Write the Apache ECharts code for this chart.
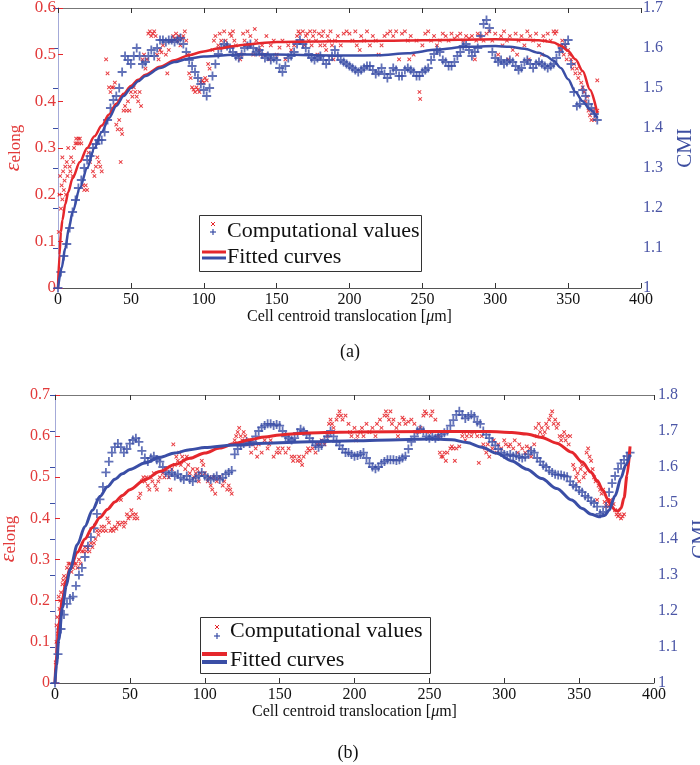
<!DOCTYPE html>
<html><head><meta charset="utf-8">
<script src="https://cdn.jsdelivr.net/npm/echarts@6/dist/echarts.min.js"></script>
<style>html,body{margin:0;padding:0;background:#fff}#c{width:700px;height:765px}</style>
</head><body><div id="c"></div>
<script>
// ---------------- DATA ----------------
const xRange = [0, 400], xStep = 50;
const leftRangeA = [0, 0.6], rightRangeA = [1, 1.7];
const leftRangeB = [0, 0.7], rightRangeB = [1, 1.8];
const yStep = 0.1;
const blueStep = 2; // sampling step (um) of the CMI computational values

// (a) CMI computational values, x = 0,2,4,...,370
const blueA = [1.00,1.04,1.08,1.11,1.15,1.19,1.22,1.25,1.27,1.30,1.32,1.33,1.35,1.36,1.37,1.37,1.39,1.42,1.45,1.47,
1.48,1.50,1.54,1.58,1.57,1.56,1.58,1.60,1.58,1.56,1.565,1.58,1.595,1.58,1.60,1.62,1.62,1.615,1.62,1.62,
1.615,1.62,1.625,1.61,1.59,1.57,1.555,1.54,1.525,1.51,1.495,1.48,1.50,1.53,1.56,1.585,1.60,1.61,1.605,1.60,
1.59,1.58,1.575,1.585,1.60,1.605,1.61,1.60,1.59,1.595,1.585,1.575,1.58,1.57,1.575,1.57,1.55,1.54,1.555,1.575,
1.58,1.59,1.61,1.62,1.61,1.60,1.585,1.575,1.57,1.575,1.58,1.57,1.56,1.57,1.58,1.595,1.58,1.57,1.565,1.56,
1.555,1.55,1.545,1.54,1.545,1.55,1.555,1.555,1.545,1.535,1.54,1.55,1.535,1.525,1.535,1.55,1.545,1.53,1.53,1.545,
1.55,1.545,1.54,1.53,1.53,1.54,1.545,1.55,1.57,1.585,1.595,1.59,1.57,1.565,1.555,1.555,1.565,1.58,1.59,1.605,
1.61,1.595,1.58,1.59,1.60,1.63,1.66,1.67,1.65,1.59,1.575,1.565,1.57,1.56,1.565,1.57,1.565,1.555,1.545,1.55,
1.565,1.57,1.56,1.55,1.56,1.565,1.56,1.555,1.55,1.555,1.56,1.575,1.59,1.60,1.61,1.62,1.56,1.49,1.455,1.46,
1.495,1.48,1.46,1.45,1.435,1.42];

// (a) elongation computational values [x, eps]
const redA = [[0.5,0.12],[1,0.2],[1.5,0.24],[2,0.17],[2.5,0.22],[3,0.28],[3,0.19],[3.5,0.25],[4,0.21],[4.5,0.23],[5,0.26],[5.5,0.2],[6,0.27],[6.5,0.24],[7,0.3],[8,0.26],[8.5,0.25],[9,0.28],[10,0.24],[10.5,0.27],[11,0.3],[12,0.31],[12.5,0.32],[13,0.31],[14,0.32],[14.5,0.31],[15,0.32],[16,0.31],[17,0.22],[18,0.21],[19,0.22],[20,0.21],[21,0.29],[22,0.27],[24,0.25],[25,0.24],[26,0.26],[27,0.28],[28,0.27],[29,0.26],[30,0.25],[33,0.49],[34,0.46],[35,0.43],[36,0.42],[37,0.43],[38,0.43],[39,0.44],[40,0.35],[41,0.34],[42,0.36],[43,0.27],[43.5,0.34],[44,0.33],[45,0.38],[46,0.39],[47,0.38],[48,0.4],[49,0.38],[50,0.42],[51,0.41],[52,0.43],[53,0.42],[54,0.41],[55,0.4],[56,0.42],[57,0.39],[58,0.49],[59,0.5],[60,0.47],[61,0.49],[62,0.545],[63,0.55],[64,0.54],[65,0.545],[66,0.55],[67,0.54],[68,0.5],[69,0.49],[70,0.51],[71,0.505],[72,0.52],[74,0.5],[75,0.46],[76,0.51],[78,0.53],[79,0.54],[80,0.535],[81,0.545],[82,0.53],[83,0.54],[84,0.52],[85,0.535],[86,0.54],[87,0.55],[88,0.53],[89,0.5],[90,0.46],[91,0.45],[92,0.43],[93,0.425],[94,0.42],[95,0.43],[96,0.425],[97,0.42],[98,0.44],[99,0.445],[100,0.44],[101,0.45],[102,0.445],[103,0.48],[104,0.47],[106,0.51],[107,0.53],[108,0.54],[110,0.52],[111,0.545],[112,0.53],[114,0.55],[115,0.53],[116,0.52],[118,0.545],[119,0.54],[120,0.55],[121,0.53],[122,0.52],[124,0.5],[125,0.49],[126,0.5],[127,0.545],[128,0.53],[130,0.55],[131,0.52],[132,0.54],[134,0.5],[135,0.555],[136,0.53],[138,0.51],[139,0.5],[140,0.52],[142,0.5],[143,0.54],[145,0.49],[146,0.52],[148,0.53],[150,0.5],[152,0.515],[154,0.53],[156,0.49],[158,0.52],[160,0.51],[162,0.52],[164,0.54],[165,0.55],[166,0.545],[167,0.53],[168,0.55],[169,0.52],[170,0.54],[171,0.545],[172,0.53],[173,0.55],[174,0.52],[175,0.54],[176,0.55],[177,0.53],[178,0.5],[179,0.545],[180,0.52],[181,0.54],[182,0.55],[183,0.52],[184,0.51],[185,0.54],[186,0.53],[187,0.55],[188,0.52],[189,0.49],[190,0.53],[192,0.54],[194,0.52],[196,0.545],[198,0.55],[200,0.545],[202,0.53],[204,0.55],[205,0.52],[207,0.51],[208,0.54],[210,0.53],[212,0.55],[214,0.52],[216,0.54],[218,0.53],[220,0.5],[222,0.52],[224,0.54],[226,0.545],[228,0.55],[230,0.54],[232,0.55],[234,0.49],[236,0.545],[238,0.55],[240,0.53],[241,0.49],[242,0.54],[244,0.5],[246,0.53],[248,0.42],[248.5,0.405],[250,0.52],[252,0.545],[254,0.55],[256,0.53],[258,0.54],[260,0.52],[262,0.53],[264,0.545],[266,0.54],[268,0.53],[270,0.545],[272,0.535],[274,0.54],[276,0.545],[278,0.53],[280,0.54],[282,0.535],[284,0.54],[286,0.49],[287,0.53],[288,0.545],[290,0.54],[292,0.53],[294,0.545],[296,0.55],[298,0.53],[300,0.545],[302,0.5],[304,0.54],[305,0.52],[306,0.55],[308,0.53],[309,0.49],[310,0.54],[312,0.51],[314,0.545],[315,0.5],[316,0.53],[318,0.54],[320,0.52],[322,0.55],[323,0.49],[324,0.54],[326,0.53],[328,0.545],[330,0.52],[332,0.5],[333,0.54],[334,0.53],[336,0.545],[338,0.53],[340,0.55],[341,0.545],[342,0.55],[344,0.52],[345,0.51],[346,0.53],[347,0.5],[348,0.52],[349,0.49],[350,0.51],[351,0.5],[352,0.49],[353,0.47],[354,0.48],[355,0.46],[356,0.47],[357,0.45],[358,0.46],[359,0.44],[360,0.43],[361,0.42],[362,0.4],[363,0.41],[364,0.38],[365,0.37],[366,0.36],[367,0.38],[368,0.36],[369,0.37],[370,0.445],[370,0.38]];

// (a) fitted curves
const redFitA = [[0,0],[1,0.07],[2,0.12],[3,0.145],[5,0.18],[7,0.205],[10,0.235],[15,0.27],[20,0.30],[25,0.325],[30,0.348],[35,0.372],[40,0.395],[45,0.416],[50,0.433],[55,0.446],[60,0.457],[70,0.474],[80,0.488],[90,0.499],[100,0.507],[110,0.513],[120,0.518],[130,0.522],[140,0.525],[150,0.527],[175,0.528],[200,0.529],[225,0.530],[250,0.531],[275,0.532],[300,0.533],[320,0.532],[330,0.531],[335,0.529],[340,0.526],[345,0.519],[350,0.508],[355,0.49],[360,0.465],[365,0.425],[370,0.375]];
const blueFitA = [[0,1.0],[2.5,1.05],[5,1.10],[7.5,1.15],[10,1.19],[15,1.25],[20,1.30],[25,1.35],[30,1.39],[35,1.425],[40,1.455],[45,1.48],[50,1.50],[55,1.517],[60,1.53],[70,1.55],[80,1.565],[90,1.574],[100,1.579],[125,1.584],[150,1.584],[175,1.582],[200,1.581],[220,1.582],[240,1.587],[260,1.596],[280,1.603],[300,1.605],[310,1.603],[320,1.598],[330,1.588],[335,1.58],[340,1.568],[345,1.55],[350,1.522],[355,1.49],[360,1.467],[365,1.446],[370,1.425]];

// (b) CMI computational values, x = 0,2,4,...,384
const blueB = [1.00,1.08,1.15,1.19,1.22,1.235,1.24,1.27,1.30,1.32,1.35,1.38,1.405,1.43,1.47,1.51,1.545,1.585,1.615,1.64,
1.655,1.665,1.655,1.64,1.65,1.665,1.675,1.68,1.67,1.645,1.625,1.615,1.625,1.63,1.62,1.615,1.60,1.585,1.58,1.585,
1.575,1.58,1.57,1.565,1.575,1.565,1.56,1.57,1.575,1.585,1.575,1.57,1.565,1.57,1.575,1.565,1.57,1.58,1.585,1.59,
1.635,1.65,1.66,1.665,1.67,1.665,1.67,1.685,1.70,1.71,1.715,1.72,1.72,1.715,1.718,1.715,1.70,1.685,1.68,1.675,
1.68,1.695,1.705,1.70,1.69,1.68,1.67,1.66,1.655,1.66,1.675,1.685,1.70,1.685,1.67,1.66,1.65,1.64,1.64,1.635,
1.63,1.632,1.635,1.64,1.625,1.61,1.60,1.595,1.60,1.61,1.615,1.62,1.62,1.62,1.618,1.62,1.625,1.63,1.65,1.67,
1.685,1.70,1.705,1.70,1.685,1.68,1.685,1.68,1.685,1.69,1.695,1.70,1.715,1.73,1.745,1.755,1.745,1.735,1.74,1.745,
1.74,1.725,1.72,1.70,1.69,1.68,1.67,1.66,1.65,1.64,1.635,1.632,1.635,1.63,1.632,1.628,1.625,1.628,1.635,1.645,
1.64,1.625,1.615,1.605,1.60,1.59,1.585,1.58,1.578,1.578,1.575,1.573,1.56,1.55,1.545,1.535,1.53,1.52,1.515,1.505,
1.50,1.49,1.47,1.475,1.49,1.53,1.555,1.575,1.595,1.61,1.62,1.63,1.64];

// (b) elongation computational values [x, eps]
const redB = [[0.5,0.05],[1,0.1],[1,0.14],[1.5,0.16],[2,0.12],[2.5,0.21],[3,0.18],[3.5,0.2],[4,0.22],[5,0.24],[5.5,0.25],[6,0.26],[7,0.24],[8,0.28],[9,0.29],[10,0.29],[11,0.27],[12,0.28],[13,0.29],[14,0.29],[15,0.28],[16,0.3],[17,0.29],[18,0.32],[19,0.32],[20,0.33],[21,0.32],[22,0.33],[23,0.32],[24,0.34],[25,0.33],[26,0.34],[27,0.35],[28,0.37],[29,0.36],[30,0.37],[31,0.38],[32,0.37],[33,0.38],[34,0.37],[35,0.40],[36,0.39],[37,0.37],[38,0.375],[39,0.37],[40,0.38],[41,0.375],[42,0.39],[43,0.385],[44,0.445],[45,0.39],[46,0.38],[47,0.39],[48,0.41],[49,0.40],[50,0.405],[51,0.42],[52,0.41],[53,0.40],[54,0.41],[55,0.40],[56,0.45],[57,0.46],[58,0.49],[59,0.5],[60,0.49],[61,0.5],[62,0.48],[63,0.47],[64,0.5],[65,0.49],[66,0.51],[67,0.48],[68,0.47],[69,0.49],[70,0.5],[72,0.51],[73,0.5],[74,0.52],[76,0.5],[77,0.47],[78,0.52],[79,0.58],[80,0.53],[81,0.55],[82,0.54],[83,0.56],[84,0.53],[85,0.55],[86,0.54],[87,0.52],[88,0.55],[89,0.53],[90,0.51],[92,0.52],[93,0.5],[94,0.51],[95,0.52],[96,0.49],[97,0.51],[98,0.54],[99,0.53],[100,0.51],[102,0.49],[103,0.5],[104,0.48],[105,0.47],[106,0.5],[107,0.46],[108,0.49],[110,0.5],[112,0.48],[113,0.49],[115,0.47],[116,0.48],[117,0.47],[118,0.46],[120,0.59],[121,0.6],[122,0.61],[123,0.62],[124,0.6],[125,0.59],[126,0.61],[127,0.6],[128,0.58],[130,0.59],[131,0.56],[132,0.58],[134,0.57],[135,0.55],[136,0.58],[138,0.56],[140,0.59],[142,0.57],[143,0.58],[144,0.59],[146,0.55],[148,0.56],[149,0.57],[150,0.56],[152,0.57],[154,0.56],[156,0.57],[158,0.55],[159,0.54],[160,0.55],[162,0.54],[163,0.55],[164,0.54],[165,0.53],[166,0.55],[168,0.56],[169,0.57],[170,0.565],[172,0.57],[174,0.56],[175,0.58],[177,0.58],[178,0.59],[180,0.58],[182,0.6],[183,0.63],[184,0.64],[185,0.63],[186,0.62],[188,0.64],[189,0.65],[190,0.66],[191,0.65],[192,0.64],[194,0.65],[196,0.63],[197,0.61],[198,0.6],[200,0.62],[201,0.59],[202,0.6],[204,0.61],[205,0.62],[206,0.6],[208,0.63],[210,0.61],[212,0.62],[214,0.6],[215,0.63],[217,0.64],[218,0.62],[220,0.65],[221,0.66],[222,0.65],[223,0.64],[224,0.66],[225,0.63],[226,0.64],[228,0.62],[229,0.6],[230,0.63],[232,0.645],[233,0.64],[234,0.63],[236,0.635],[238,0.64],[240,0.63],[242,0.61],[244,0.62],[246,0.65],[247,0.66],[248,0.655],[250,0.61],[251,0.65],[252,0.66],[254,0.64],[256,0.6],[257,0.56],[258,0.55],[259,0.55],[260,0.56],[261,0.54],[262,0.56],[264,0.57],[265,0.575],[266,0.57],[267,0.54],[268,0.57],[270,0.575],[272,0.6],[273,0.61],[274,0.59],[275,0.6],[277,0.61],[278,0.6],[280,0.61],[282,0.6],[283,0.535],[285,0.6],[286,0.58],[287,0.57],[288,0.56],[289,0.58],[290,0.55],[292,0.57],[293,0.59],[295,0.56],[296,0.58],[298,0.57],[300,0.59],[301,0.58],[303,0.575],[304,0.58],[306,0.57],[307,0.59],[309,0.56],[310,0.58],[312,0.57],[314,0.56],[315,0.575],[317,0.57],[318,0.55],[320,0.58],[321,0.62],[322,0.6],[323,0.63],[324,0.61],[325,0.62],[326,0.6],[327,0.61],[328,0.63],[329,0.62],[330,0.64],[331,0.65],[332,0.66],[333,0.63],[334,0.64],[335,0.62],[336,0.63],[337,0.6],[338,0.59],[339,0.6],[340,0.61],[341,0.59],[342,0.6],[343,0.58],[344,0.6],[346,0.53],[347,0.52],[348,0.5],[349,0.51],[350,0.49],[351,0.52],[352,0.53],[353,0.5],[354,0.51],[355,0.56],[356,0.57],[357,0.55],[358,0.54],[359,0.52],[360,0.5],[361,0.49],[362,0.445],[363,0.48],[364,0.47],[365,0.46],[366,0.47],[367,0.44],[368,0.43],[369,0.44],[370,0.43],[371,0.445],[372,0.43],[373,0.435],[374,0.42],[375,0.41],[376,0.405],[377,0.41],[378,0.4],[379,0.405],[380,0.41]];

// (b) fitted curves
const redFitB = [[0,0],[1,0.07],[2.5,0.14],[5,0.205],[7.5,0.25],[10,0.278],[15,0.318],[20,0.35],[25,0.378],[30,0.402],[35,0.422],[40,0.44],[45,0.456],[50,0.47],[60,0.494],[70,0.514],[80,0.531],[90,0.546],[100,0.559],[110,0.571],[120,0.582],[130,0.591],[140,0.598],[150,0.603],[160,0.606],[180,0.609],[200,0.61],[250,0.611],[290,0.611],[305,0.609],[315,0.605],[325,0.597],[335,0.583],[345,0.561],[352,0.537],[358,0.512],[362,0.492],[366,0.468],[369,0.447],[372,0.428],[374,0.42],[376,0.418],[378,0.425],[380,0.45],[382,0.505],[384,0.575]];
const blueFitB = [[0,1.0],[1,1.05],[2.5,1.12],[5,1.21],[7.5,1.27],[10,1.315],[15,1.385],[20,1.435],[25,1.48],[30,1.518],[35,1.545],[40,1.566],[45,1.581],[50,1.593],[60,1.611],[70,1.627],[80,1.639],[90,1.648],[100,1.654],[120,1.661],[140,1.666],[170,1.67],[200,1.673],[230,1.676],[250,1.678],[265,1.676],[275,1.668],[285,1.655],[295,1.638],[305,1.617],[315,1.594],[325,1.568],[335,1.54],[345,1.508],[352,1.485],[358,1.469],[363,1.462],[367,1.465],[370,1.48],[374,1.52],[378,1.57],[381,1.605],[384,1.635]];

const seriesNames = ['Computational values', 'Fitted curves'];
const xName = 'Cell centroid translocation [';
const captions = ['(a)', '(b)'];

// ---------------- STYLE ----------------
const FF = '"Liberation Serif", "Times New Roman", serif';
const RED = '#e5272c', BLUE = '#3a4ea6';
const RED_LBL = '#e23a3a', BLUE_LBL = '#4b56a6';
const PLUS = 'path://M4,0H6V4H10V6H6V10H4V6H0V4H4Z';

const grids = [
  {left: 58, top: 8, width: 583, height: 280, containLabel: false, outerBoundsMode: 'none'},
  {left: 55, top: 395, width: 599, height: 288, containLabel: false, outerBoundsMode: 'none'}
];

function xAxes(gi, nameGap) {
  return [{
    gridIndex: gi, type: 'value', min: xRange[0], max: xRange[1], interval: xStep, position: 'bottom',
    axisLine: {lineStyle: {color: '#555', width: 1}},
    axisTick: {inside: true, length: 5, lineStyle: {color: '#333'}},
    axisLabel: {color: '#111', fontFamily: FF, fontSize: 16, margin: 4},
    splitLine: {show: false},
    name: '{n|' + xName + '}{m|μ}{n|m]}', nameLocation: 'middle', nameGap: nameGap,
    nameTextStyle: {rich: {n: {fontFamily: FF, fontSize: 16, color: '#111'}, m: {fontFamily: FF, fontSize: 16, fontStyle: 'italic', color: '#111'}}}
  }, {
    gridIndex: gi, type: 'value', min: xRange[0], max: xRange[1], interval: xStep, position: 'top',
    axisLine: {lineStyle: {color: '#777', width: 1}},
    axisTick: {inside: true, length: 5, lineStyle: {color: '#333'}},
    axisLabel: {show: false}, splitLine: {show: false}
  }];
}
function yAxes(gi, lr, rr, lfs, lmargin, rmargin, lgap, rgap) {
  return [{
    gridIndex: gi, type: 'value', min: lr[0], max: lr[1], interval: yStep, position: 'left',
    axisLine: {show: true, lineStyle: {color: '#f07a7a'}},
    axisTick: {show: true, inside: true, length: 5, lineStyle: {color: RED}},
    axisLabel: {color: RED_LBL, fontFamily: FF, fontSize: lfs, margin: lmargin},
    splitLine: {show: false},
    name: '{e|ε}{s|elong}', nameLocation: 'middle', nameRotate: 90, nameGap: lgap,
    nameTextStyle: {rich: {
      e: {fontFamily: FF, fontSize: 22, fontStyle: 'italic', color: RED_LBL, lineHeight: 22, verticalAlign: 'top'},
      s: {fontFamily: FF, fontSize: 17, color: RED_LBL, lineHeight: 17, padding: [9, 0, 0, 0], verticalAlign: 'bottom'}
    }}
  }, {
    gridIndex: gi, type: 'value', min: rr[0], max: rr[1], interval: yStep, position: 'right',
    axisLine: {show: true, lineStyle: {color: '#a4aad8'}},
    axisTick: {show: true, inside: true, length: 5, lineStyle: {color: BLUE}},
    axisLabel: {color: BLUE_LBL, fontFamily: FF, fontSize: 16, margin: rmargin},
    splitLine: {show: false},
    name: 'CMI', nameLocation: 'middle', nameRotate: 90, nameGap: rgap,
    nameTextStyle: {fontFamily: FF, fontSize: 21, color: '#3d4ea0'}
  }];
}

function seriesFor(gi, red, blue, redFit, blueFit, fitW) {
  const xi = gi * 2, yl = gi * 2, yr = gi * 2 + 1;
  return [
    {type: 'scatter', xAxisIndex: xi, yAxisIndex: yl, data: red, symbol: PLUS, symbolRotate: 45, symbolSize: 5,
     itemStyle: {color: RED, opacity: 0.9}, silent: true, z: 2},
    {type: 'scatter', xAxisIndex: xi, yAxisIndex: yr, data: blue.map((v, i) => [i * blueStep, v]), symbol: PLUS, symbolSize: 9,
     itemStyle: {color: BLUE}, silent: true, z: 3},
    {type: 'line', xAxisIndex: xi, yAxisIndex: yl, data: redFit, smooth: 0.3, smoothMonotone: 'x', showSymbol: false,
     lineStyle: {color: RED, width: fitW}, silent: true, z: 4},
    {type: 'line', xAxisIndex: xi, yAxisIndex: yr, data: blueFit, smooth: 0.3, smoothMonotone: 'x', showSymbol: false,
     lineStyle: {color: BLUE, width: fitW}, silent: true, z: 5}
  ];
}

function legendGraphic(bx, by, bw, bh, tx, ty1, ty2, ix, iy1, iy2, lx1, lx2, ly1, ly2, lw) {
  const t = (x, y, s) => ({type: 'text', x: x, y: y, z: 101,
    style: {text: s, font: '22px ' + FF, fill: '#111', verticalAlign: 'middle', textVerticalAlign: 'middle'}});
  return [
    {type: 'rect', shape: {x: bx + 0.5, y: by + 0.5, width: bw, height: bh}, style: {fill: '#fff', stroke: '#333', lineWidth: 1}, z: 100},
    t(tx, ty1, seriesNames[0]), t(tx, ty2, seriesNames[1]),
    {type: 'line', shape: {x1: ix - 2, y1: iy1 - 2, x2: ix + 2, y2: iy1 + 2}, style: {stroke: RED, lineWidth: 1}, z: 101},
    {type: 'line', shape: {x1: ix - 2, y1: iy1 + 2, x2: ix + 2, y2: iy1 - 2}, style: {stroke: RED, lineWidth: 1}, z: 101},
    {type: 'line', shape: {x1: ix - 3, y1: iy2, x2: ix + 3, y2: iy2}, style: {stroke: BLUE, lineWidth: 1.2}, z: 101},
    {type: 'line', shape: {x1: ix, y1: iy2 - 3, x2: ix, y2: iy2 + 3}, style: {stroke: BLUE, lineWidth: 1.2}, z: 101},
    {type: 'line', shape: {x1: lx1, y1: ly1, x2: lx2, y2: ly1}, style: {stroke: RED, lineWidth: lw}, z: 101},
    {type: 'line', shape: {x1: lx1, y1: ly2, x2: lx2, y2: ly2}, style: {stroke: BLUE, lineWidth: lw}, z: 101}
  ];
}

const chart = echarts.init(document.getElementById('c'), null, {renderer: 'canvas'});
chart.setOption({
  animation: false,
  backgroundColor: '#fff',
  grid: grids,
  xAxis: [...xAxes(0, 21), ...xAxes(1, 19)],
  yAxis: [...yAxes(0, leftRangeA, rightRangeA, 17, 2, 2, 33, 34), ...yAxes(1, leftRangeB, rightRangeB, 16, 5, 4, 28, 36)],
  series: [...seriesFor(0, redA, blueA, redFitA, blueFitA, 2.5), ...seriesFor(1, redB, blueB, redFitB, blueFitB, 3)],
  graphic: [
    ...legendGraphic(199, 215, 222, 56, 227, 231, 257, 213, 224, 232, 202, 226, 252, 258, 3),
    ...legendGraphic(200, 617, 230, 56, 230, 631, 660, 217, 627, 636, 202, 227, 654, 662, 4),
    {type: 'text', x: 350, y: 352, z: 101, style: {text: captions[0], font: '18px ' + FF, fill: '#111', align: 'center', verticalAlign: 'middle', textAlign: 'center', textVerticalAlign: 'middle'}},
    {type: 'text', x: 348, y: 753, z: 101, style: {text: captions[1], font: '18px ' + FF, fill: '#111', align: 'center', verticalAlign: 'middle', textAlign: 'center', textVerticalAlign: 'middle'}}
  ]
});
</script>
</body></html>
